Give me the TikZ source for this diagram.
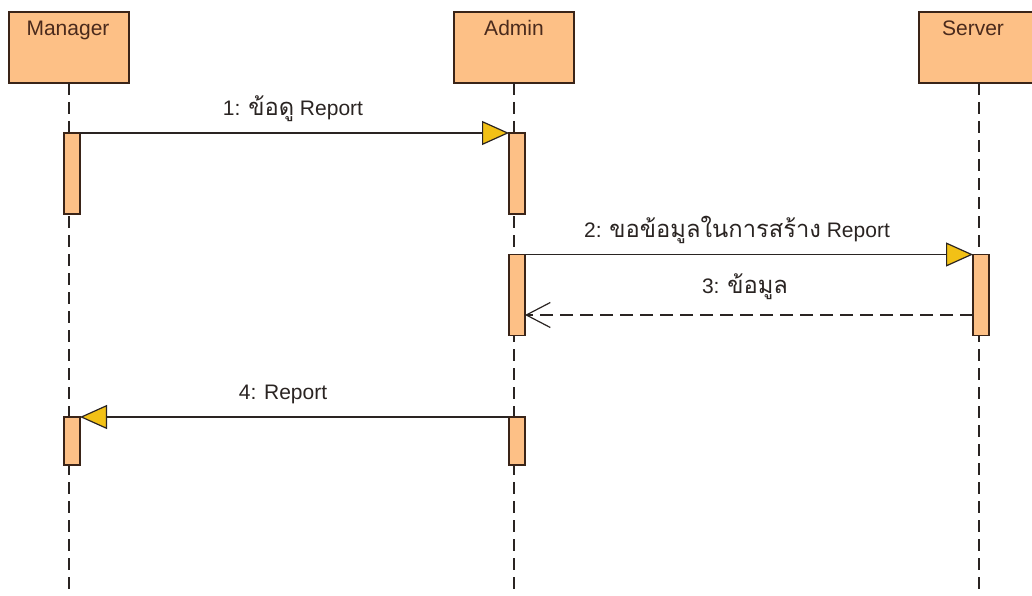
\documentclass[tikz,border=0pt]{standalone}
\usepackage{fontspec}
\setmainfont{Liberation Sans}
\newfontfamily\thaifont[Script=Thai,Scale=1.13]{Loma}
\usetikzlibrary{arrows.meta,calc}

\definecolor{boxfill}{HTML}{FDC086}
\definecolor{boxline}{HTML}{3A2418}
\definecolor{tipgold}{HTML}{F2C116}
\definecolor{inkdark}{HTML}{2A2422}
\definecolor{labelbrown}{HTML}{4A2A1C}

\tikzset{
  actor/.style={draw=boxline, fill=boxfill, line width=1.5pt, rectangle,
    minimum width=120pt, minimum height=71pt, inner sep=0pt, outer sep=0pt},
  actorname/.style={anchor=base, font=\fontsize{21}{25}\selectfont, text=labelbrown, inner sep=0pt},
  lifeline/.style={draw=inkdark, line width=1.4pt, dash pattern=on 12pt off 7pt},
  activation/.style={draw=boxline, fill=boxfill, line width=1.5pt, rectangle,
    minimum width=16pt, inner sep=0pt, outer sep=0pt},
  callmsg/.style={draw=inkdark, line width=1.5pt,
    -{Triangle[length=27pt, width=24pt, fill=tipgold, line width=1.2pt]}},
  replymsg/.style={draw=inkdark, line width=1.5pt, dash pattern=on 13pt off 7pt,
    -{Straight Barb[length=24pt, width=25pt, line width=1.2pt]}},
  msglabel/.style={anchor=base, font=\fontsize{21}{25}\selectfont, text=inkdark, inner sep=0pt},
}

\begin{document}
\begin{tikzpicture}[x=1pt, y=-1pt]
  \useasboundingbox (0,0) rectangle (1032,596);
  \clip (0,0) rectangle (1032,596);

  % participants
  \node[actor] (mgr) at (69,47.5) {};
  \node[actor] (adm) at (514,47.5) {};
  \node[actor] (srv) at (979,47.5) {};
  \node[actorname] (mgrname) at (68,36) {Manager};
  \node[actorname] (admname) at (514,36) {Admin};
  \node[actorname] (srvname) at (973,36) {Server};

  % lifeline ends
  \coordinate (mgrend) at (69,600);
  \coordinate (admend) at (514,600);
  \coordinate (srvend) at (979,600);

  \draw[lifeline] (mgr.south) -- (mgrend);
  \draw[lifeline] (adm.south) -- (admend);
  \draw[lifeline] (srv.south) -- (srvend);

  % activation bars
  \node[activation, minimum height=81pt] (m1) at (72,173.5) {};
  \node[activation, minimum height=81pt] (a1) at (517,173.5) {};
  \node[activation, minimum height=81pt] (a2) at (517,295) {};
  \node[activation, minimum height=81pt] (s1) at (981,295) {};
  \node[activation, minimum height=48pt] (m2) at (72,441) {};
  \node[activation, minimum height=48pt] (a3) at (517,441) {};

  % messages
  \draw[callmsg] (m1.north east) -- (a1.north west);
  \node[msglabel] (l1) at (293,116) {1: {\thaifont ข้อดู} Report};

  \draw[callmsg] (a2.north east) -- (s1.north west);
  \node[msglabel] (l2) at (737,237) {2: {\thaifont ขอข้อมูลในการสร้าง} Report};

  \coordinate (r3) at (0,315);
  \draw[replymsg] (s1.west |- r3) -- (a2.east |- r3);
  \node[msglabel] (l3) at (745,293) {3: {\thaifont ข้อมูล}};

  \draw[callmsg] (a3.north west) -- (m2.north east);
  \node[msglabel] (l4) at (283,399) {4: Report};
\end{tikzpicture}
\end{document}
